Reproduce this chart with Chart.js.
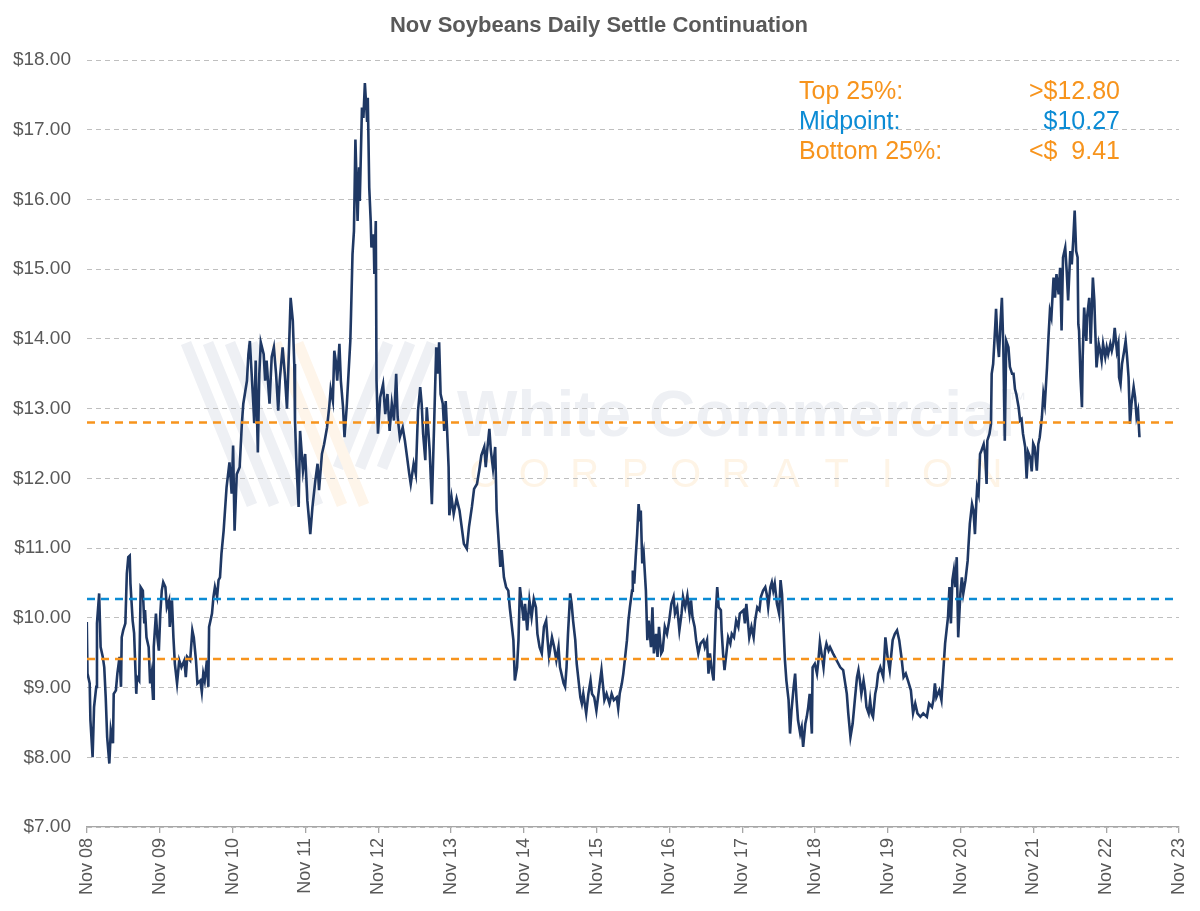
<!DOCTYPE html>
<html>
<head>
<meta charset="utf-8">
<title>Nov Soybeans Daily Settle Continuation</title>
<script src="https://cdn.jsdelivr.net/npm/chart.js@4.4.1/dist/chart.umd.min.js"></script>
<style>
  html, body { margin: 0; padding: 0; background: #fff; }
  .chart_con { width: 1200px; height: 911px; }
</style>
</head>
<body>
<div class="chart_con"><canvas id="myCanvas" width="1200" height="911"></canvas></div>
<script>
const chartTitle = 'Nov Soybeans Daily Settle Continuation';
const tickLabels = ['Nov 08','Nov 09','Nov 10','Nov 11','Nov 12','Nov 13','Nov 14','Nov 15',
  'Nov 16','Nov 17','Nov 18','Nov 19','Nov 20','Nov 21','Nov 22','Nov 23'];
const firstTick = 2008.833; // 1 Nov 2008 as decimal year

// settle dates (decimal years) and prices, $/bu
const settleDates = [
  2008.83,2008.84,2008.87,2008.88,2008.91,2008.93,2008.96,2008.97,2009.00,2009.02,2009.05,2009.07,2009.09,2009.11,2009.14,2009.16,
  2009.19,2009.20,2009.23,2009.25,2009.28,2009.30,2009.31,2009.33,2009.36,2009.38,2009.40,2009.42,2009.43,2009.46,2009.48,2009.51,
  2009.52,2009.55,2009.57,2009.60,2009.62,2009.63,2009.65,2009.68,2009.70,2009.72,2009.74,2009.75,2009.78,2009.80,2009.82,2009.84,
  2009.86,2009.88,2009.91,2009.93,2009.96,2009.97,2010.00,2010.02,2010.04,2010.07,2010.10,2010.13,2010.17,2010.19,2010.21,2010.25,
  2010.28,2010.30,2010.33,2010.35,2010.39,2010.41,2010.43,2010.45,2010.48,2010.50,2010.51,2010.55,2010.57,2010.59,2010.62,2010.64,
  2010.66,2010.68,2010.71,2010.75,2010.79,2010.82,2010.84,2010.86,2010.89,2010.93,2010.96,2010.98,2011.03,2011.05,2011.07,2011.10,
  2011.12,2011.13,2011.15,2011.18,2011.20,2011.22,2011.26,2011.28,2011.30,2011.34,2011.37,2011.40,2011.43,2011.46,2011.48,2011.52,
  2011.55,2011.58,2011.61,2011.63,2011.66,2011.68,2011.69,2011.71,2011.74,2011.76,2011.80,2011.83,2011.86,2011.90,2011.93,2011.97,
  2012.00,2012.02,2012.06,2012.09,2012.13,2012.16,2012.18,2012.21,2012.23,2012.25,2012.27,2012.30,2012.32,2012.35,2012.37,2012.40,
  2012.42,2012.45,2012.46,2012.48,2012.50,2012.52,2012.55,2012.57,2012.58,2012.61,2012.63,2012.65,2012.68,2012.69,2012.71,2012.73,
  2012.74,2012.77,2012.78,2012.80,2012.81,2012.83,2012.86,2012.90,2012.93,2012.96,2012.99,2013.02,2013.05,2013.08,2013.10,2013.13,
  2013.17,2013.20,2013.23,2013.26,2013.28,2013.32,2013.35,2013.38,2013.41,2013.43,2013.45,2013.48,2013.50,2013.54,2013.57,2013.60,
  2013.63,2013.65,2013.67,2013.69,2013.72,2013.74,2013.76,2013.78,2013.80,2013.81,2013.84,2013.87,2013.91,2013.95,2013.98,2014.01,
  2014.05,2014.08,2014.12,2014.15,2014.19,2014.22,2014.25,2014.29,2014.31,2014.33,2014.36,2014.38,2014.41,2014.44,2014.46,2014.49,
  2014.51,2014.53,2014.56,2014.59,2014.62,2014.64,2014.67,2014.69,2014.71,2014.74,2014.76,2014.78,2014.80,2014.83,2014.85,2014.88,
  2014.91,2014.94,2014.97,2015.00,2015.02,2015.05,2015.08,2015.11,2015.14,2015.16,2015.18,2015.22,2015.25,2015.28,2015.31,2015.33,
  2015.35,2015.38,2015.40,2015.42,2015.44,2015.47,2015.49,2015.51,2015.54,2015.56,2015.58,2015.61,2015.63,2015.65,2015.69,2015.72,
  2015.75,2015.77,2015.80,2015.83,2015.87,2015.90,2015.94,2015.97,2016.01,2016.04,2016.07,2016.11,2016.13,2016.15,2016.18,2016.20,
  2016.22,2016.25,2016.27,2016.29,2016.32,2016.33,2016.35,2016.37,2016.39,2016.41,2016.43,2016.44,2016.46,2016.48,2016.51,2016.53,
  2016.55,2016.58,2016.60,2016.62,2016.65,2016.67,2016.69,2016.72,2016.74,2016.77,2016.80,2016.83,2016.86,2016.89,2016.91,2016.94,
  2016.97,2017.00,2017.02,2017.05,2017.08,2017.11,2017.13,2017.15,2017.18,2017.20,2017.23,2017.26,2017.30,2017.32,2017.35,2017.37,
  2017.39,2017.41,2017.44,2017.45,2017.47,2017.49,2017.51,2017.54,2017.55,2017.57,2017.59,2017.62,2017.64,2017.67,2017.69,2017.72,
  2017.75,2017.78,2017.80,2017.85,2017.87,2017.89,2017.93,2017.96,2017.99,2018.01,2018.04,2018.07,2018.09,2018.12,2018.15,2018.17,
  2018.19,2018.22,2018.24,2018.26,2018.28,2018.31,2018.33,2018.34,2018.36,2018.38,2018.40,2018.42,2018.44,2018.47,2018.49,2018.51,
  2018.54,2018.56,2018.58,2018.60,2018.63,2018.65,2018.67,2018.70,2018.72,2018.74,2018.76,2018.79,2018.80,2018.83,2018.86,2018.88,
  2018.90,2018.93,2018.95,2018.97,2018.99,2019.02,2019.04,2019.08,2019.13,2019.18,2019.22,2019.27,2019.29,2019.32,2019.35,2019.38,
  2019.41,2019.43,2019.45,2019.47,2019.50,2019.52,2019.54,2019.57,2019.59,2019.61,2019.63,2019.66,2019.68,2019.70,2019.73,2019.77,
  2019.80,2019.83,2019.86,2019.90,2019.93,2019.96,2019.99,2020.02,2020.05,2020.08,2020.11,2020.15,2020.18,2020.21,2020.24,2020.28,
  2020.32,2020.37,2020.40,2020.44,2020.46,2020.48,2020.50,2020.54,2020.57,2020.59,2020.62,2020.64,2020.66,2020.68,2020.70,2020.72,
  2020.74,2020.76,2020.78,2020.80,2020.83,2020.85,2020.87,2020.90,2020.93,2020.94,2020.96,2020.99,2021.01,2021.03,2021.05,2021.06,
  2021.08,2021.10,2021.12,2021.15,2021.17,2021.19,2021.20,2021.23,2021.25,2021.26,2021.28,2021.31,2021.32,2021.34,2021.36,2021.38,
  2021.40,2021.42,2021.44,2021.46,2021.49,2021.51,2021.54,2021.56,2021.58,2021.60,2021.63,2021.65,2021.67,2021.69,2021.72,2021.74,
  2021.76,2021.79,2021.81,2021.83,2021.85,2021.88,2021.90,2021.92,2021.95,2021.97,2021.99,2022.02,2022.04,2022.06,2022.08,2022.11,
  2022.13,2022.15,2022.18,2022.20,2022.22,2022.24,2022.27,2022.29,2022.31,2022.34,2022.36,2022.38,2022.40,2022.42,2022.44,2022.45,
  2022.46,2022.48,2022.50,2022.51,2022.53,2022.56,2022.57,2022.60,2022.62,2022.65,2022.67,2022.68,2022.70,2022.73,2022.75,2022.77,
  2022.79,2022.82,2022.84,2022.86,2022.89,2022.91,2022.93,2022.95,2022.98,2023.00,2023.01,2023.03,2023.05,2023.08,2023.10,2023.12,
  2023.14,2023.16,2023.18,2023.21,2023.23,2023.25,2023.27,2023.29
];
const settlePrices = [
  9.94,9.20,9.06,8.53,8.00,8.72,9.01,9.92,10.35,9.58,9.44,9.29,8.86,8.29,7.91,8.39,
  8.20,8.91,8.96,9.20,9.44,9.01,9.72,9.82,9.92,10.63,10.87,10.89,10.49,9.96,9.78,8.91,
  9.15,9.10,10.44,10.39,9.92,10.11,9.72,9.58,9.06,9.20,8.84,9.58,10.06,9.72,9.53,10.06,
  10.39,10.51,10.44,10.15,10.25,9.87,10.25,9.72,9.34,9.06,9.39,9.29,9.39,9.15,9.44,9.39,
  9.82,9.72,9.39,9.06,9.10,8.94,9.20,9.10,9.39,9.01,9.87,10.06,10.30,10.44,10.30,10.54,
  10.58,10.92,11.25,11.87,12.23,11.78,12.47,11.25,12.06,12.16,12.78,13.07,13.40,13.78,13.97,13.40,
  13.02,12.79,13.69,12.37,13.50,13.95,13.78,13.40,13.69,13.07,13.74,13.88,13.50,12.97,13.40,13.88,
  13.50,13.00,13.93,14.59,14.26,13.64,12.83,12.20,11.59,12.68,12.11,12.35,11.68,11.20,11.59,11.97,
  12.21,11.83,12.35,12.49,12.73,13.02,13.28,13.11,13.83,13.69,13.40,13.93,13.40,13.02,12.59,13.02,
  13.40,13.97,14.36,15.21,15.55,16.86,15.69,16.46,15.98,17.32,17.17,17.67,17.13,17.46,16.17,15.69,
  15.31,15.50,14.93,15.69,13.40,12.64,13.16,13.35,12.92,13.21,12.68,13.07,12.83,13.50,12.88,12.59,
  12.73,12.54,12.30,12.06,11.92,12.21,12.06,12.97,13.31,13.07,12.64,12.26,13.02,12.40,11.63,12.73,
  13.88,13.50,13.95,13.21,13.07,12.68,13.11,12.68,12.16,11.47,11.73,11.49,11.71,11.54,11.30,11.06,
  10.99,11.30,11.59,11.85,11.92,12.11,12.33,12.45,12.16,12.40,12.71,12.40,12.14,12.45,11.54,11.06,
  10.73,10.97,10.58,10.44,10.39,10.15,9.87,9.68,9.10,9.29,9.68,10.44,10.25,9.96,10.20,9.82,
  10.25,10.01,10.27,10.15,9.77,9.58,9.49,9.87,9.96,9.68,9.44,9.72,9.58,9.39,9.58,9.29,
  9.20,9.06,9.01,9.29,9.77,10.35,10.20,9.96,9.68,9.34,9.15,8.86,8.77,8.91,8.63,8.91,
  9.10,8.91,8.86,8.67,9.01,9.25,8.82,8.91,8.77,8.91,8.82,8.86,8.70,8.91,9.06,9.20,
  9.39,9.68,9.96,10.15,10.39,10.68,10.49,10.87,11.20,11.63,11.40,11.54,10.78,10.92,10.39,9.68,
  9.96,9.58,10.15,9.49,9.77,9.44,9.87,9.49,9.53,9.87,9.77,9.96,10.20,10.30,10.06,10.15,
  9.82,10.06,10.30,10.15,10.32,10.06,10.25,10.01,9.87,9.68,9.49,9.63,9.68,9.58,9.68,9.20,
  9.49,9.29,9.10,9.44,10.06,10.44,10.15,10.11,9.82,9.49,9.25,9.53,9.72,9.63,9.77,9.72,
  9.96,9.87,10.06,10.11,9.92,10.20,9.72,9.87,9.72,9.96,10.15,10.11,10.30,10.39,10.44,10.34,
  10.15,10.44,10.51,10.39,10.49,10.20,10.11,10.06,10.54,10.34,9.87,9.39,9.10,8.82,8.34,8.67,
  9.01,9.20,8.82,8.53,8.34,8.43,8.15,8.48,8.58,8.72,8.91,8.34,9.29,9.34,9.20,9.39,
  9.65,9.44,9.29,9.53,9.63,9.53,9.58,9.49,9.39,9.29,9.25,8.91,8.63,8.29,8.48,8.82,
  9.15,9.25,9.10,8.91,9.10,8.96,8.72,8.63,8.82,8.63,8.58,8.91,9.01,9.20,9.29,9.15,
  9.72,9.44,9.25,9.68,9.77,9.82,9.68,9.44,9.15,9.20,9.10,8.96,8.63,8.77,8.63,8.58,
  8.63,8.58,8.77,8.72,8.82,9.06,8.86,8.96,8.82,9.15,9.63,9.82,10.01,10.44,9.92,10.54,
  10.68,10.44,10.87,9.72,10.35,10.58,10.35,10.54,10.82,11.01,11.35,11.63,11.54,11.20,11.68,11.87,
  11.78,12.35,12.40,12.49,12.35,11.92,12.54,12.64,12.78,13.50,13.64,14.21,14.43,13.97,13.74,14.21,
  14.59,13.88,12.54,13.97,13.88,13.60,13.50,13.50,13.28,13.20,13.02,12.83,12.85,12.64,12.45,12.00,
  12.38,12.30,12.10,12.50,12.45,12.11,12.49,12.59,12.88,13.21,13.07,13.59,14.02,14.40,14.31,14.88,
  14.59,14.93,14.64,15.02,14.12,15.17,15.31,14.98,14.55,15.26,15.07,15.41,15.84,15.26,15.17,14.21,
  14.12,13.45,13.02,13.74,14.45,13.97,14.31,14.59,13.93,14.88,14.55,14.21,13.59,13.93,13.83,13.69,
  13.93,13.74,13.88,13.78,13.93,13.83,13.93,14.16,13.83,13.93,13.45,13.35,13.64,13.83,13.97,13.74,
  13.45,12.78,13.07,13.31,13.16,12.88,12.97,12.59
];

// percentile levels
const top25 = 12.80;
const midpoint = 10.27;
const bottom25 = 9.41;
const levelNames = ['Top 25%:', 'Midpoint:', 'Bottom 25%:'];
const levelTexts = ['>$' + top25.toFixed(2), '$' + midpoint.toFixed(2), '<$  ' + bottom25.toFixed(2)];

const navy = '#1F3864', orange = '#F7941D', blue = '#0B8BD4', grey = '#595959';
const fontFam = '"Liberation Sans", Arial, Helvetica, sans-serif';
Chart.defaults.font.family = fontFam;

const xMin = firstTick, xMax = firstTick + tickLabels.length - 1;
const flatLine = (val) => [{x: xMin, y: val}, {x: xMax, y: val}];

// watermark drawn behind grid
const watermark = {
  id: 'watermark',
  beforeDraw(chart){
    const c = chart.ctx;
    c.save();
    c.lineWidth = 11;
    c.strokeStyle = '#EEF0F4';
    [186, 208, 230, 252].forEach((x)=>{
      c.beginPath(); c.moveTo(x, 343); c.lineTo(x + 66, 505); c.stroke();
    });
    [388, 410, 432].forEach((x)=>{
      c.beginPath(); c.moveTo(x, 343); c.lineTo(x - 50, 468); c.stroke();
    });
    c.strokeStyle = '#FEF5EA';
    [276, 298].forEach((x)=>{
      c.beginPath(); c.moveTo(x, 343); c.lineTo(x + 66, 505); c.stroke();
    });
    c.fillStyle = '#EEF0F4';
    c.font = 'bold 64px ' + fontFam;
    c.textAlign = 'left';
    c.textBaseline = 'alphabetic';
    c.fillText('White Commercial', 457, 436);
    c.font = '18px ' + fontFam;
    c.fillText('™', 1008, 405);
    c.fillStyle = '#FEF4E6';
    c.font = '40px ' + fontFam;
    c.textAlign = 'center';
    'CORPORATION'.split('').forEach((ch, i)=>{
      c.fillText(ch, 484 + i * 50.4, 487);
    });
    c.restore();
  }
};

// title and level notes
const notes = {
  id: 'notes',
  afterDraw(chart){
    const c = chart.ctx;
    c.save();
    c.fillStyle = grey;
    c.font = 'bold 22px ' + fontFam;
    c.textAlign = 'center';
    c.textBaseline = 'middle';
    c.fillText(chartTitle, 599, 26);
    c.font = '25px ' + fontFam;
    const colors = [orange, blue, orange];
    levelNames.forEach((name, i)=>{
      const y = 92 + i * 30;
      c.fillStyle = colors[i];
      c.textAlign = 'left';
      c.fillText(name, 799, y);
      c.textAlign = 'right';
      c.fillText(levelTexts[i], 1120, y);
    });
    c.restore();
  }
};

const ctx = document.querySelector('#myCanvas').getContext('2d');
const myChart = new Chart(ctx, {
  type: 'line',
  data: {
    datasets: [{
      label: 'Settle',
      data: settleDates.map((d, i)=>({x: d, y: settlePrices[i]})),
      borderColor: navy,
      borderWidth: 2.6,
      pointRadius: 0,
      tension: 0,
      order: 1
    }, {
      label: 'Top 25%',
      data: flatLine(top25),
      borderColor: orange,
      borderWidth: 2.5,
      borderDash: [8, 6],
      pointRadius: 0,
      order: 0
    }, {
      label: 'Midpoint',
      data: flatLine(midpoint),
      borderColor: blue,
      borderWidth: 2.5,
      borderDash: [8, 6],
      pointRadius: 0,
      order: 0
    }, {
      label: 'Bottom 25%',
      data: flatLine(bottom25),
      borderColor: orange,
      borderWidth: 2.5,
      borderDash: [8, 6],
      pointRadius: 0,
      order: 0
    }]
  },
  options: {
    responsive: false,
    animation: false,
    parsing: false,
    layout: { padding: { top: 60, right: 21, left: 0, bottom: 0 } },
    plugins: { legend: { display: false }, tooltip: { enabled: false }, title: { display: false } },
    scales: {
      x: {
        type: 'linear',
        min: xMin,
        max: xMax,
        afterBuildTicks: (s)=>{ s.ticks = tickLabels.map((_, i)=>({value: firstTick + i})); },
        afterFit: (s)=>{ s.height = 84; s.paddingRight = 0; s.paddingLeft = 0; },
        ticks: {
          autoSkip: false,
          minRotation: 90,
          maxRotation: 90,
          padding: 5,
          color: grey,
          font: { size: 18 },
          callback: (v, i)=> tickLabels[i]
        },
        grid: { drawOnChartArea: false, drawTicks: true, tickLength: 6, color: '#A6A6A6', lineWidth: 1.3 },
        border: { display: true, color: '#A6A6A6', width: 1.3 }
      },
      y: {
        min: 7,
        max: 18,
        afterFit: (s)=>{ s.width = 87; },
        ticks: {
          stepSize: 1,
          padding: 16,
          color: grey,
          font: { size: 19 },
          callback: (v)=> '$' + v.toFixed(2)
        },
        grid: { color: '#BFBFBF', lineWidth: 1, drawTicks: false },
        border: { display: false, dash: [5, 4] }
      }
    }
  },
  plugins: [watermark, notes]
});
</script>
</body>
</html>
